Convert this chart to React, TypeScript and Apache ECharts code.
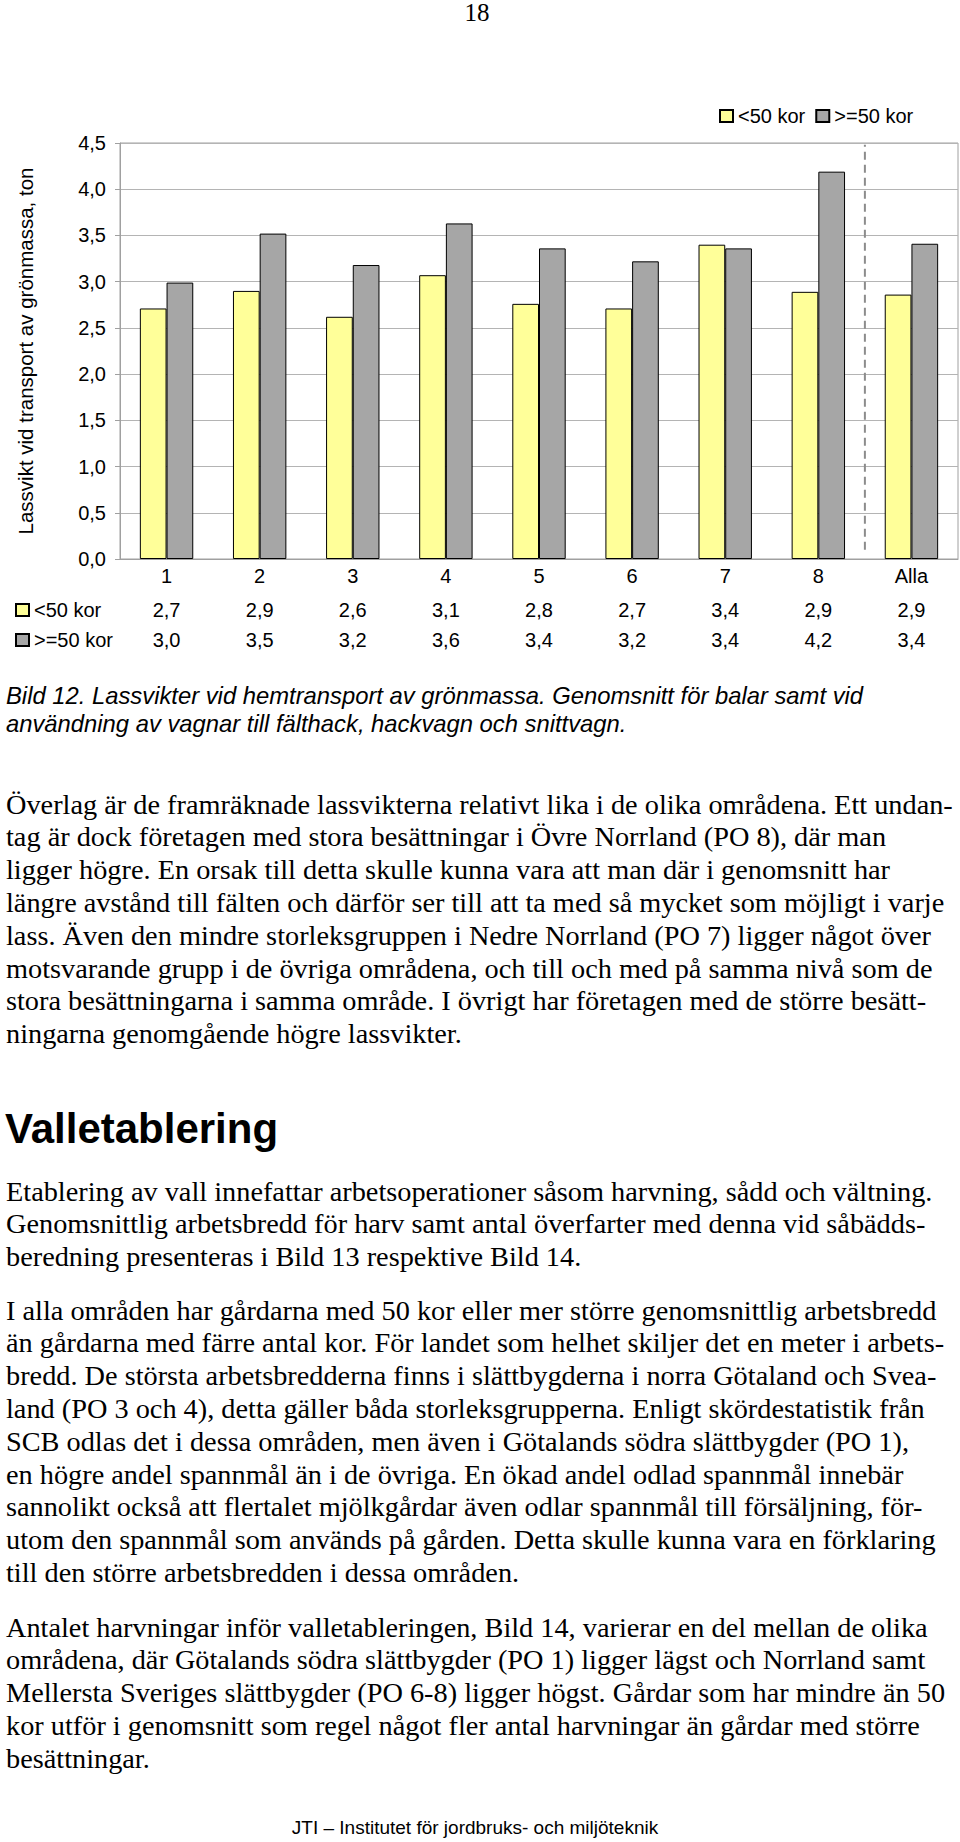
import React, { useEffect, useRef } from 'react';
import * as echarts from 'echarts';

// ---------- chart data ----------
const categories = ['1', '2', '3', '4', '5', '6', '7', '8', 'Alla'];
const seriesNames = ['<50 kor', '>=50 kor'];
const under50 = [2.71, 2.9, 2.62, 3.07, 2.76, 2.71, 3.4, 2.89, 2.86];
const over50 = [2.99, 3.52, 3.18, 3.63, 3.36, 3.22, 3.36, 4.19, 3.41];
const under50Table = ['2,7', '2,9', '2,6', '3,1', '2,8', '2,7', '3,4', '2,9', '2,9'];
const over50Table = ['3,0', '3,5', '3,2', '3,6', '3,4', '3,2', '3,4', '4,2', '3,4'];
const yMin = 0;
const yMax = 4.5;
const yStep = 0.5;
const yTitle = 'Lassvikt vid transport av grönmassa, ton';
const separatorSpan = [0.1, 4.48];

// ---------- page text ----------
const pageNumber = '18';
const captionLines = [
  'Bild 12. Lassvikter vid hemtransport av grönmassa. Genomsnitt för balar samt vid',
  'användning av vagnar till fälthack, hackvagn och snittvagn.',
];
const para1 = [
  'Överlag är de framräknade lassvikterna relativt lika i de olika områdena. Ett undan-',
  'tag är dock företagen med stora besättningar i Övre Norrland (PO 8), där man',
  'ligger högre. En orsak till detta skulle kunna vara att man där i genomsnitt har',
  'längre avstånd till fälten och därför ser till att ta med så mycket som möjligt i varje',
  'lass. Även den mindre storleksgruppen i Nedre Norrland (PO 7) ligger något över',
  'motsvarande grupp i de övriga områdena, och till och med på samma nivå som de',
  'stora besättningarna i samma område. I övrigt har företagen med de större besätt-',
  'ningarna genomgående högre lassvikter.',
];
const heading = 'Valletablering';
const para2 = [
  'Etablering av vall innefattar arbetsoperationer såsom harvning, sådd och vältning.',
  'Genomsnittlig arbetsbredd för harv samt antal överfarter med denna vid såbädds-',
  'beredning presenteras i Bild 13 respektive Bild 14.',
];
const para3 = [
  'I alla områden har gårdarna med 50 kor eller mer större genomsnittlig arbetsbredd',
  'än gårdarna med färre antal kor. För landet som helhet skiljer det en meter i arbets-',
  'bredd. De största arbetsbredderna finns i slättbygderna i norra Götaland och Svea-',
  'land (PO 3 och 4), detta gäller båda storleksgrupperna. Enligt skördestatistik från',
  'SCB odlas det i dessa områden, men även i Götalands södra slättbygder (PO 1),',
  'en högre andel spannmål än i de övriga. En ökad andel odlad spannmål innebär',
  'sannolikt också att flertalet mjölkgårdar även odlar spannmål till försäljning, för-',
  'utom den spannmål som används på gården. Detta skulle kunna vara en förklaring',
  'till den större arbetsbredden i dessa områden.',
];
const para4 = [
  'Antalet harvningar inför valletableringen, Bild 14, varierar en del mellan de olika',
  'områdena, där Götalands södra slättbygder (PO 1) ligger lägst och Norrland samt',
  'Mellersta Sveriges slättbygder (PO 6-8) ligger högst. Gårdar som har mindre än 50',
  'kor utför i genomsnitt som regel något fler antal harvningar än gårdar med större',
  'besättningar.',
];
const footer = 'JTI – Institutet för jordbruks- och miljöteknik';

const SANS = '"Liberation Sans", Arial, Helvetica, sans-serif';
const SERIF = '"Liberation Serif", "Times New Roman", serif';

type TOpts = { family: string; size: number; weight?: string; style?: string; align?: string };

function textEl(text: string, x: number, y: number, o: TOpts) {
  return {
    type: 'text',
    x,
    y,
    silent: true,
    style: {
      text,
      fill: '#000',
      align: o.align || 'left',
      verticalAlign: 'middle',
      fontFamily: o.family,
      fontSize: o.size,
      fontWeight: o.weight || 'normal',
      fontStyle: o.style || 'normal',
    },
  };
}

function block(lines: string[], top: number, step: number, o: TOpts, x = 6) {
  return lines.map((l, i) => textEl(l, x, top + i * step, o));
}

const fmt = (v: number) => v.toFixed(1).replace('.', ',');

export default function App() {
  const ref = useRef<HTMLDivElement>(null);

  useEffect(() => {
    document.body.style.margin = '0';
    if (!ref.current) return;
    const chart = echarts.init(ref.current, undefined, { renderer: 'svg' });

    const body: TOpts = { family: SERIF, size: 28.3 };
    const LINE = 32.8;
    const graphic: any[] = [
      textEl(pageNumber, 477, 12, { family: SERIF, size: 25, align: 'center' }),
      ...block(captionLines, 695, 28, { family: SANS, size: 23.8, style: 'italic' }),
      ...block(para1, 804, LINE, body),
      textEl(heading, 5, 1128, { family: SANS, size: 42, weight: 'bold' }),
      ...block(para2, 1191, LINE, body),
      ...block(para3, 1310, LINE, body),
      ...block(para4, 1627, LINE, body),
      textEl(footer, 475, 1827, { family: SANS, size: 19, align: 'center' }),
    ];

    const legendCommon = {
      data: seriesNames,
      padding: 0,
      itemWidth: 13,
      itemHeight: 12,
      itemGap: 10,
      icon: 'rect',
      selectedMode: false,
      textStyle: { fontSize: 20, color: '#000', fontFamily: SANS },
    };

    const option: any = {
      animation: false,
      textStyle: { fontFamily: SANS },
      legend: [
        { ...legendCommon, left: 719, top: 106, orient: 'horizontal' },
        { ...legendCommon, left: 15, top: 600, orient: 'vertical' },
      ],
      grid: {
        left: 120,
        top: 143,
        width: 838,
        height: 416,
        show: true,
        borderColor: '#a0a0a0',
        borderWidth: 1,
        containLabel: false,
        outerBoundsMode: 'none',
      },
      xAxis: [
        {
          type: 'category',
          data: categories,
          position: 'bottom',
          axisLine: { show: true, lineStyle: { color: '#a0a0a0' } },
          axisTick: { show: false },
          splitLine: { show: false },
          axisLabel: { interval: 0, margin: 7, fontSize: 20, color: '#000', fontFamily: SANS },
        },
        {
          type: 'category',
          data: categories,
          position: 'bottom',
          offset: 34,
          axisLine: { show: false },
          axisTick: { show: false },
          splitLine: { show: false },
          axisLabel: {
            interval: 0,
            margin: 7,
            fontSize: 20,
            color: '#000',
            fontFamily: SANS,
            formatter: (_v: string, i: number) => under50Table[i],
          },
        },
        {
          type: 'category',
          data: categories,
          position: 'bottom',
          offset: 64,
          axisLine: { show: false },
          axisTick: { show: false },
          splitLine: { show: false },
          axisLabel: {
            interval: 0,
            margin: 7,
            fontSize: 20,
            color: '#000',
            fontFamily: SANS,
            formatter: (_v: string, i: number) => over50Table[i],
          },
        },
        { type: 'value', min: 0, max: categories.length, show: false },
      ],
      yAxis: {
        type: 'value',
        min: yMin,
        max: yMax,
        interval: yStep,
        name: yTitle,
        nameLocation: 'middle',
        nameGap: 84,
        nameRotate: 90,
        nameTextStyle: { fontSize: 20.5, color: '#000', fontFamily: SANS },
        axisLine: { show: true, lineStyle: { color: '#a0a0a0' } },
        axisTick: { show: true, length: 5, lineStyle: { color: '#a0a0a0' } },
        axisLabel: {
          margin: 14,
          fontSize: 20,
          color: '#000',
          fontFamily: SANS,
          formatter: (v: number) => fmt(v),
        },
        splitLine: { show: true, lineStyle: { color: '#b4b4b4', width: 1 } },
      },
      series: [
        {
          name: seriesNames[0],
          type: 'bar',
          data: under50,
          barWidth: 26.7,
          barGap: '0%',
          itemStyle: { color: '#ffff99', borderColor: '#000', borderWidth: 1 },
        },
        {
          name: seriesNames[1],
          type: 'bar',
          data: over50,
          barWidth: 26.7,
          barGap: '0%',
          itemStyle: { color: '#a6a6a6', borderColor: '#000', borderWidth: 1 },
        },
        {
          name: 'separator',
          type: 'line',
          xAxisIndex: 3,
          yAxisIndex: 0,
          silent: true,
          symbol: 'none',
          showSymbol: false,
          data: [
            [categories.length - 1, separatorSpan[0]],
            [categories.length - 1, separatorSpan[1]],
          ],
          lineStyle: { color: '#8c8c8c', width: 2, type: [8, 5] },
        },
      ],
      graphic,
    };

    chart.setOption(option);
    return () => chart.dispose();
  }, []);

  return <div ref={ref} style={{ width: 960, height: 1842 }} />;
}
